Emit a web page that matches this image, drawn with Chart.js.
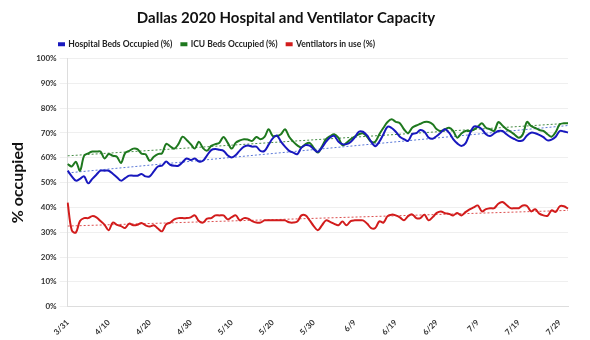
<!DOCTYPE html>
<html>
<head>
<meta charset="utf-8">
<script src="https://cdn.jsdelivr.net/npm/chart.js@4"></script>
<style>
  body { margin: 0; background: #fff; }
  #wrap { width: 590px; height: 340px; }
</style>
</head>
<body>
<div id="wrap"><canvas id="capacity-chart"></canvas></div>
<script>
// days from 3/31 to 7/31
const days = [
  "3/31",
  "4/1","4/2","4/3","4/4","4/5","4/6","4/7","4/8","4/9","4/10","4/11","4/12","4/13","4/14","4/15",
  "4/16","4/17","4/18","4/19","4/20","4/21","4/22","4/23","4/24","4/25","4/26","4/27","4/28","4/29","4/30",
  "5/1","5/2","5/3","5/4","5/5","5/6","5/7","5/8","5/9","5/10","5/11","5/12","5/13","5/14","5/15","5/16",
  "5/17","5/18","5/19","5/20","5/21","5/22","5/23","5/24","5/25","5/26","5/27","5/28","5/29","5/30","5/31",
  "6/1","6/2","6/3","6/4","6/5","6/6","6/7","6/8","6/9","6/10","6/11","6/12","6/13","6/14","6/15",
  "6/16","6/17","6/18","6/19","6/20","6/21","6/22","6/23","6/24","6/25","6/26","6/27","6/28","6/29","6/30",
  "7/1","7/2","7/3","7/4","7/5","7/6","7/7","7/8","7/9","7/10","7/11","7/12","7/13","7/14","7/15","7/16",
  "7/17","7/18","7/19","7/20","7/21","7/22","7/23","7/24","7/25","7/26","7/27","7/28","7/29","7/30","7/31"
];

const hospitalBeds = [
  54.8, 52.5, 50.8, 51.5, 52.5, 49.7, 51.5, 53.2, 54.8, 54.8, 54.8,
  53.6, 52.2, 50.8, 51.8, 52.8, 52.8, 52.8, 53.5, 52.5, 52.5,
  54.5, 56.5, 56.8, 58.5, 57.2, 56.8, 56.8, 58.2, 59.7, 59.1,
  59.7, 58.5, 58.8, 61.0, 63.1, 63.5, 63.2, 62.8, 61.0, 60.1,
  61.1, 63.0, 64.5, 65.0, 64.5, 64.5, 62.8, 62.8, 65.3, 67.8,
  69.0, 66.5, 64.5, 62.8, 62.1, 61.5, 64.1, 65.1, 64.9, 63.5,
  62.4, 64.1, 66.5, 68.2, 68.8, 66.5, 65.5, 65.5, 66.4, 68.2,
  70.5, 70.5, 69.0, 66.5, 64.7, 66.5, 69.5, 72.5, 72.0, 70.5,
  68.5, 67.5, 66.8, 69.5, 69.9, 71.2, 70.5, 68.2, 67.7, 68.8,
  70.2, 71.5, 70.1, 67.5, 65.8, 64.8, 65.8, 69.5, 72.5, 72.5,
  71.5, 69.5, 68.8, 69.8, 70.8, 70.8, 69.5, 68.3, 67.5, 66.8,
  67.0, 69.0, 70.1, 69.9, 69.2, 68.3, 67.0, 67.3, 68.5, 70.8, 70.6, 70.2
];

const icuBeds = [
  57.5, 56.5, 58.4, 54.8, 60.8, 61.8, 62.5, 62.5, 62.5, 59.7, 61.5,
  60.8, 60.4, 57.9, 61.9, 62.8, 63.7, 63.5, 61.7, 61.4, 58.8,
  60.4, 61.5, 61.8, 65.6, 64.6, 63.7, 65.5, 68.5, 67.2, 65.5,
  63.7, 66.5, 63.9, 62.9, 64.8, 65.5, 66.1, 68.4, 66.1, 63.7,
  66.1, 67.0, 67.5, 67.3, 66.8, 68.4, 67.5, 68.4, 71.5, 68.8,
  68.8, 69.5, 71.5, 68.5, 66.5, 65.0, 64.2, 65.5, 66.0, 64.0,
  62.1, 64.5, 67.5, 68.7, 69.5, 68.1, 65.1, 66.0, 67.5, 68.5,
  69.5, 69.9, 68.5, 66.5, 66.5, 69.5, 72.1, 74.4, 75.5, 74.5,
  73.9, 71.5, 69.9, 72.1, 73.0, 73.7, 74.4, 74.4, 73.5, 71.5,
  70.8, 71.5, 72.1, 70.8, 68.1, 69.8, 70.8, 70.8, 71.3, 72.5,
  73.9, 72.1, 71.5, 70.8, 74.4, 73.0, 71.5, 70.5, 69.3, 68.1,
  69.5, 74.4, 72.8, 72.0, 71.2, 70.8, 69.5, 68.5, 70.4, 73.5, 73.9, 73.9
];

const ventilators = [
  41.9, 30.8, 29.9, 34.5, 35.7, 35.7, 36.5, 36.0, 34.5, 33.0, 30.8,
  33.9, 33.0, 32.5, 31.7, 33.5, 32.8, 33.0, 33.7, 32.8, 32.3,
  32.8, 31.5, 30.4, 33.2, 33.9, 35.2, 35.7, 35.7, 35.7, 36.0,
  36.8, 34.5, 33.9, 35.5, 35.7, 36.8, 36.8, 36.8, 35.2, 36.1,
  36.8, 34.8, 35.7, 35.5, 34.5, 33.9, 33.9, 34.8, 34.8, 34.8,
  34.8, 34.8, 34.8, 34.0, 33.9, 34.3, 36.8, 36.8, 34.8, 32.5,
  30.8, 32.8, 34.8, 34.2, 33.4, 32.8, 34.3, 32.8, 34.5, 34.8,
  34.8, 34.8, 33.5, 31.7, 31.7, 34.4, 33.9, 36.5, 37.1, 36.8,
  36.0, 34.8, 36.5, 37.2, 35.7, 35.7, 37.1, 34.8, 36.1, 37.8,
  38.4, 37.7, 37.4, 36.8, 37.8, 36.8, 38.1, 39.2, 40.0, 40.8,
  38.4, 39.3, 39.7, 39.7, 41.5, 42.2, 41.0, 39.7, 39.7, 39.7,
  40.8, 40.6, 38.4, 39.3, 37.5, 36.8, 36.6, 38.8, 38.2, 40.5, 40.5, 39.5
];

// trendline ends (start, end)
const hospitalTrend = [53.9, 73.0];
const icuTrend = [60.8, 73.9];
const ventTrend = [32.5, 38.8];

const firstDay = days[0];
const lastDay = days[days.length - 1];

function trendData(ends) {
  return [{x: firstDay, y: ends[0]}, {x: lastDay, y: ends[1]}];
}

function lineSet(label, data, color) {
  return {
    label: label,
    data: data,
    borderColor: color,
    backgroundColor: color,
    borderWidth: 2,
    pointRadius: 0,
    tension: 0.35,
    order: 1
  };
}

function trendSet(label, ends, color) {
  return {
    label: label,
    data: trendData(ends),
    borderColor: color,
    borderWidth: 1,
    borderDash: [2, 2],
    pointRadius: 0,
    order: 2
  };
}

// legend sits over the plot's left edge, not the canvas edge
const legendShift = {
  id: "legendShift",
  afterLayout(chart) {
    chart.legend.left += 46;
    chart.legend.right += 46;
  }
};

new Chart("capacity-chart", {
  type: "line",
  data: {
    labels: days,
    datasets: [
      lineSet("Hospital Beds Occupied (%)", hospitalBeds, "rgb(24,24,190)"),
      lineSet("ICU Beds Occupied (%)", icuBeds, "rgb(30,120,30)"),
      lineSet("Ventilators in use (%)", ventilators, "rgb(210,28,28)"),
      trendSet("trend hospital", hospitalTrend, "rgb(90,120,215)"),
      trendSet("trend icu", icuTrend, "rgb(70,140,70)"),
      trendSet("trend vent", ventTrend, "rgb(220,80,80)")
    ]
  },
  plugins: [legendShift],
  options: {
    responsive: true,
    maintainAspectRatio: false,
    animation: false,
    layout: { padding: { left: 4, right: 22, top: 0, bottom: 0 } },
    plugins: {
      title: {
        display: true,
        text: "Dallas 2020 Hospital and Ventilator Capacity",
        font: { family: "Lato", size: 15, weight: "bold" },
        color: "#111",
        padding: { top: 9, bottom: 4 }
      },
      legend: {
        display: true,
        align: "start",
        labels: {
          font: { family: "Lato", size: 8.5, weight: "bold" },
          color: "#222",
          boxWidth: 5,
          boxHeight: 2,
          padding: 9,
          filter: item => !item.text.startsWith("trend")
        }
      },
      tooltip: { enabled: false }
    },
    scales: {
      x: {
        grid: { display: false },
        border: { color: "#ddd" },
        ticks: {
          autoSkip: false,
          minRotation: 45,
          maxRotation: 45,
          font: { family: "Lato", size: 8, weight: "bold" },
          color: "#333",
          callback: function(val, idx) {
            return idx % 10 === 0 ? days[idx] : "";
          }
        }
      },
      y: {
        min: 0,
        max: 100,
        grid: { color: "#efefef" },
        border: { color: "#ddd" },
        ticks: {
          stepSize: 5,
          font: { family: "Lato", size: 8, weight: "bold" },
          color: "#333",
          callback: v => v + "%"
        },
        title: {
          display: true,
          text: "% occupied",
          font: { family: "Lato", size: 16, weight: "bold" },
          color: "#111",
          padding: { bottom: 6 }
        }
      }
    }
  }
});
</script>
</body>
</html>
